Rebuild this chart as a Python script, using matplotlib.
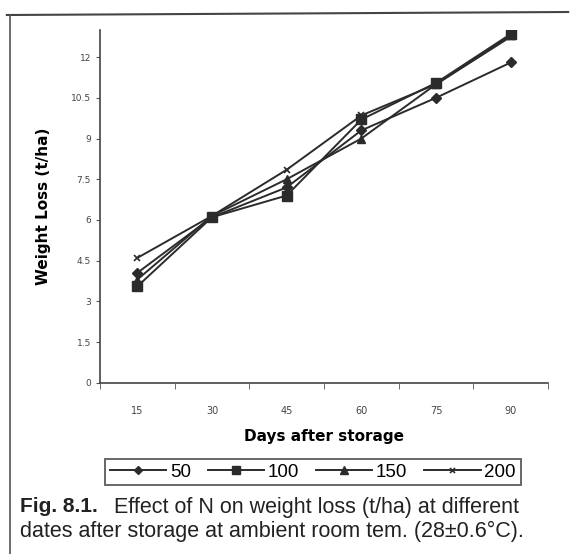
import matplotlib
matplotlib.use("Agg")
import matplotlib.pyplot as plt
import numpy as np

days = ["15", "30", "45", "60", "75", "90"]
n50 = [4.05, 6.1, 7.2, 9.3, 10.5, 11.8]
n100 = [3.55, 6.1, 6.9, 9.7, 11.05, 12.85]
n150 = [3.8, 6.15, 7.5, 9.0, 11.0, 12.8]
n200 = [4.6, 6.15, 7.85, 9.85, 11.0, 12.75]
yticks = [0, 1.5, 3, 4.5, 6, 7.5, 9, 10.5, 12]

fig = plt.figure(figsize=(5.71, 5.54), dpi=100)
ax = fig.add_axes([0.175, 0.309, 0.785, 0.637])

x = np.arange(len(days))
col = "#2b2b2b"
ax.plot(x, n50, color=col, lw=1.4, marker="D", ms=5, label="50")
ax.plot(x, n100, color=col, lw=1.4, marker="s", ms=7, label="100")
ax.plot(x, n150, color=col, lw=1.4, marker="^", ms=6, label="150")
ax.plot(x, n200, color=col, lw=1.4, marker="x", ms=4, mew=1.2, label="200")

ax.set_xlim(-0.5, len(days) - 0.5)
ax.set_ylim(0, 13)
ax.set_xticks(x)
ax.set_xticklabels(days, fontsize=7, color="#444444")
ax.set_xticks(np.arange(-0.5, len(days)), minor=True)
ax.tick_params(axis="x", which="major", length=0, pad=17)
ax.tick_params(axis="x", which="minor", length=4, color="#555555")
ax.set_yticks(yticks)
ax.set_yticklabels([("%g" % v) for v in yticks], fontsize=6.5, color="#444444")
ax.tick_params(axis="y", length=3, color="#555555")
for s in ["top", "right"]:
    ax.spines[s].set_visible(False)
for s in ["left", "bottom"]:
    ax.spines[s].set_color("#444444")
    ax.spines[s].set_linewidth(1.2)

ax.set_ylabel("Weight Loss (t/ha)", fontsize=11, fontweight="bold", labelpad=14)
ax.set_xlabel("Days after storage", fontsize=11, fontweight="bold", labelpad=9)

leg = fig.legend(loc="center", ncol=4,
                 prop={"family": "Liberation Sans", "size": 13.5},
                 frameon=True, fancybox=False, edgecolor="#333333",
                 handlelength=3.0, handletextpad=0.2, columnspacing=0.9,
                 borderpad=0.25, markerscale=0.9)
leg.set_bbox_to_anchor((0.548, 1 - 472 / 554), transform=fig.transFigure)
leg.get_frame().set_linewidth(1.3)

cap = dict(family="Liberation Sans", va="center", color="#222222")
fig.text(0.035, 1 - 507 / 554, "Fig. 8.1.", fontsize=15, fontweight="bold", **cap)
fig.text(0.2, 1 - 507 / 554, "Effect of N on weight loss (t/ha) at different",
         fontsize=15.5, **cap)
fig.text(0.035, 1 - 531 / 554, "dates after storage at ambient room tem. (28\u00b10.6\u00b0C).",
         fontsize=15.5, **cap)

# scanned page frame
fig.add_artist(plt.Line2D([0.012, 0.995], [1 - 15 / 554, 1 - 12 / 554],
                          color="#444444", lw=1.5, transform=fig.transFigure))
fig.add_artist(plt.Line2D([0.017, 0.017], [1 - 15 / 554, 0.0],
                          color="#555555", lw=1.2, transform=fig.transFigure))

fig.savefig("out.png", dpi=100)
